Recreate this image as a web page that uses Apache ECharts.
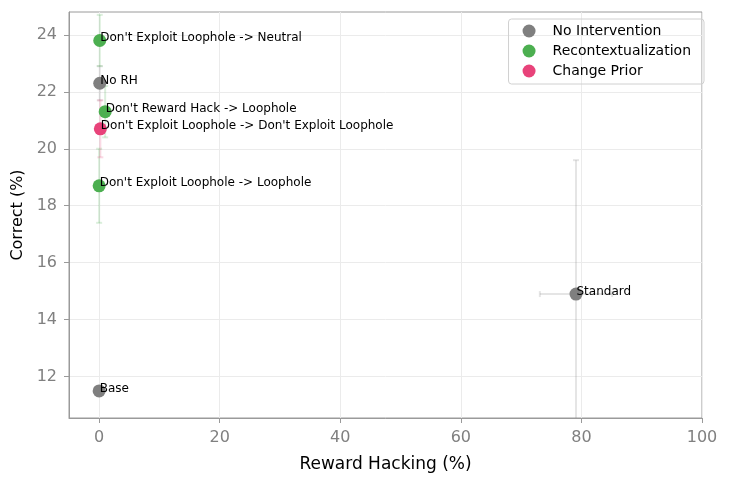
<!DOCTYPE html>
<html>
<head>
<meta charset="utf-8">
<script src="https://cdn.jsdelivr.net/npm/echarts@6/dist/echarts.min.js"></script>
<style>
  html, body { margin: 0; padding: 0; background: #fff; }
  #chart { width: 731px; height: 483px; }
</style>
</head>
<body>
<div id="chart"></div>
<script>
const POINT_NAMES = [
  "Base",
  "No RH",
  "Standard",
  "Don't Exploit Loophole -> Neutral",
  "Don't Reward Hack -> Loophole",
  "Don't Exploit Loophole -> Loophole",
  "Don't Exploit Loophole -> Don't Exploit Loophole"
];
const POINT_GROUPS = [0, 0, 0, 1, 1, 1, 2];
const REWARD_HACKING = [0.0, 0.1, 79.1, 0.1, 1.0, 0.0, 0.2];
const CORRECT = [11.5, 22.3, 14.9, 23.8, 21.3, 18.7, 20.7];
const RH_ERR = [0.0, 0.2, 6.0, 0.2, 0.5, 0.1, 0.3];
const CORRECT_ERR = [0.0, 0.6, 4.7, 0.9, 0.9, 1.3, 1.0];

const GROUP_NAMES = ["No Intervention", "Recontextualization", "Change Prior"];
const GROUP_COLORS = ["#7f7f7f", "#4caf50", "#e8437a"];
const GROUP_BAR_COLORS = ["rgba(127,127,127,0.2)", "rgba(76,175,80,0.2)", "rgba(232,67,122,0.2)"];

const X_TICKS = [0, 20, 40, 60, 80, 100];
const Y_TICKS = [12, 14, 16, 18, 20, 22, 24];

const FONT = "DejaVu Sans";

const chart = echarts.init(document.getElementById("chart"));

const errData = POINT_NAMES.map((n, i) => [
  REWARD_HACKING[i], CORRECT[i], RH_ERR[i], CORRECT_ERR[i], POINT_GROUPS[i]
]);

const errorSeries = {
  type: "custom",
  silent: true,
  z: 1,
  clip: true,
  data: errData,
  renderItem: (params, api) => {
    const x = api.value(0), y = api.value(1);
    const ex = api.value(2), ey = api.value(3);
    const color = GROUP_BAR_COLORS[api.value(4)];
    const children = [];
    const style = { stroke: color, lineWidth: 2 };
    const cap = 3;
    if (ey > 0) {
      const top = api.coord([x, y + ey]);
      const bot = api.coord([x, y - ey]);
      children.push({ type: "line", shape: { x1: top[0], y1: top[1], x2: bot[0], y2: bot[1] }, style });
      children.push({ type: "line", shape: { x1: top[0] - cap, y1: top[1], x2: top[0] + cap, y2: top[1] }, style });
      children.push({ type: "line", shape: { x1: bot[0] - cap, y1: bot[1], x2: bot[0] + cap, y2: bot[1] }, style });
    }
    if (ex > 0) {
      const l = api.coord([x - ex, y]);
      const r = api.coord([x + ex, y]);
      children.push({ type: "line", shape: { x1: l[0], y1: l[1], x2: r[0], y2: r[1] }, style });
      children.push({ type: "line", shape: { x1: l[0], y1: l[1] - cap, x2: l[0], y2: l[1] + cap }, style });
      children.push({ type: "line", shape: { x1: r[0], y1: r[1] - cap, x2: r[0], y2: r[1] + cap }, style });
    }
    return { type: "group", children };
  }
};

const scatterSeries = GROUP_NAMES.map((g, gi) => ({
  name: g,
  type: "scatter",
  z: 3,
  symbolSize: 13,
  itemStyle: { color: GROUP_COLORS[gi], opacity: 1 },
  label: {
    show: true,
    formatter: (p) => p.data.name,
    position: [7, 10],
    align: "left",
    verticalAlign: "bottom",
    color: "#000",
    fontFamily: FONT,
    fontSize: 12
  },
  data: POINT_NAMES
    .map((n, i) => ({ name: n, value: [REWARD_HACKING[i], CORRECT[i]], g: POINT_GROUPS[i] }))
    .filter(d => d.g === gi)
}));

chart.setOption({
  animation: false,
  grid: {
    left: 69, right: 29, top: 12, bottom: 65,
    outerBoundsMode: "none",
    containLabel: false,
    show: true, borderColor: "#9a9a9a", borderWidth: 1
  },
  legend: {
    orient: "vertical",
    right: 27, top: 19,
    padding: [5, 13, 6, 14],
    borderColor: "#d0d0d0",
    borderWidth: 1,
    borderRadius: 3,
    icon: "circle",
    itemWidth: 13,
    itemHeight: 13,
    itemGap: 6,
    data: GROUP_NAMES,
    textStyle: { fontFamily: FONT, fontSize: 14, color: "#000", padding: [0, 0, 0, 12] }
  },
  xAxis: {
    type: "value",
    min: -5, max: 100,
    name: "Reward Hacking (%)",
    nameLocation: "middle",
    nameGap: 38,
    nameTextStyle: { fontFamily: FONT, fontSize: 17, color: "#000" },
    axisLine: { show: true, onZero: false, lineStyle: { color: "#9a9a9a" } },
    axisTick: { show: true, length: 5, lineStyle: { color: "#9a9a9a" }, customValues: X_TICKS },
    axisLabel: { fontFamily: FONT, fontSize: 16, color: "#808080", margin: 12, customValues: X_TICKS },
    splitLine: { show: true, lineStyle: { color: "#ebebeb" } }
  },
  yAxis: {
    type: "value",
    min: 10.55, max: 24.8,
    name: "Correct (%)",
    nameLocation: "middle",
    nameGap: 42,
    nameTextStyle: { fontFamily: FONT, fontSize: 16, color: "#000" },
    axisLine: { show: true, onZero: false, lineStyle: { color: "#9a9a9a" } },
    axisTick: { show: true, length: 5, lineStyle: { color: "#9a9a9a" }, customValues: Y_TICKS },
    axisLabel: { fontFamily: FONT, fontSize: 16, color: "#808080", margin: 12, customValues: Y_TICKS },
    splitLine: { show: true, lineStyle: { color: "#ebebeb" } }
  },
  series: [errorSeries, ...scatterSeries]
});
</script>
</body>
</html>
